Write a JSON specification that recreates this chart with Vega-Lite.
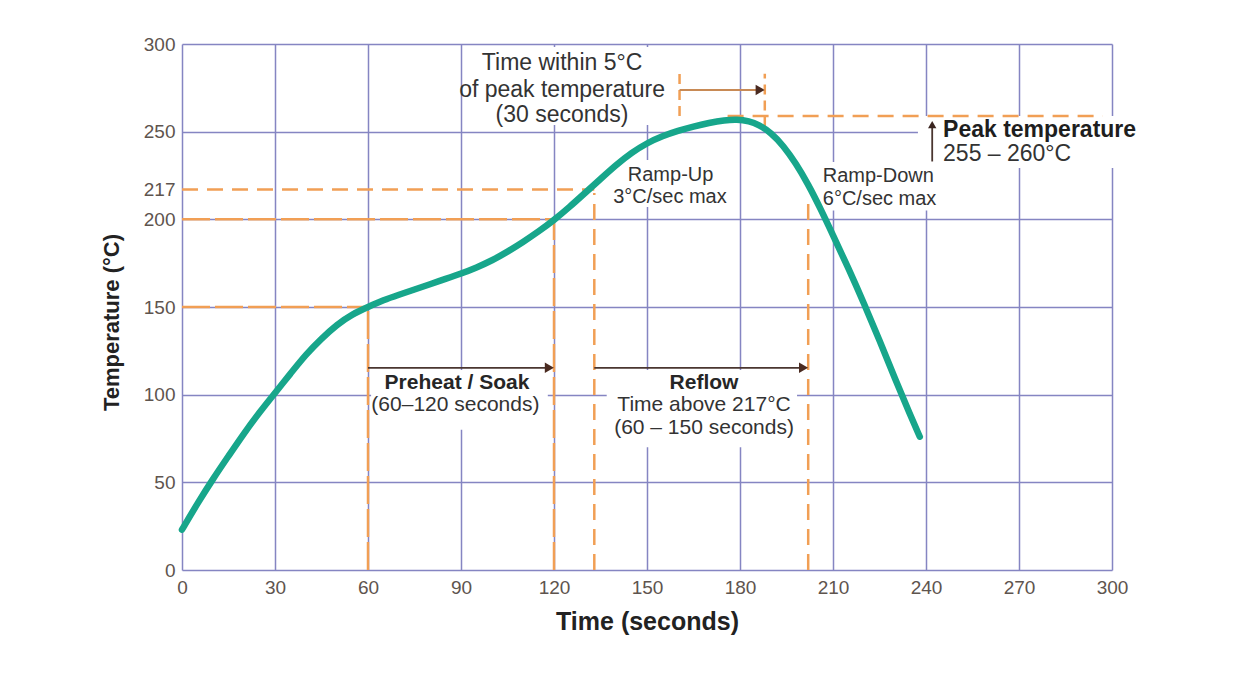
{
  "$schema": "https://vega.github.io/schema/vega-lite/v6.json",
  "width": 930,
  "height": 526,
  "autosize": {"type": "none"},
  "padding": {"left": 182, "top": 44, "right": 134, "bottom": 116},
  "background": "white",
  "config": {"view": {"stroke": null}, "font": "Liberation Sans"},
  "datasets": {
    "curve": [
      {"t": 0, "temp": 23}, {"t": 5, "temp": 38}, {"t": 10, "temp": 52}, {"t": 15, "temp": 65},
      {"t": 20, "temp": 78}, {"t": 25, "temp": 90}, {"t": 30, "temp": 101}, {"t": 35, "temp": 112},
      {"t": 40, "temp": 123}, {"t": 45, "temp": 132}, {"t": 50, "temp": 140}, {"t": 55, "temp": 146},
      {"t": 60, "temp": 150}, {"t": 65, "temp": 154}, {"t": 70, "temp": 157}, {"t": 75, "temp": 160},
      {"t": 80, "temp": 163}, {"t": 85, "temp": 166}, {"t": 90, "temp": 169}, {"t": 95, "temp": 172.5},
      {"t": 100, "temp": 176.5}, {"t": 105, "temp": 181.5}, {"t": 110, "temp": 187}, {"t": 115, "temp": 193},
      {"t": 120, "temp": 199.5}, {"t": 125, "temp": 207}, {"t": 130, "temp": 215}, {"t": 135, "temp": 223},
      {"t": 140, "temp": 231}, {"t": 145, "temp": 238}, {"t": 150, "temp": 243.5}, {"t": 155, "temp": 247.5},
      {"t": 160, "temp": 250.5}, {"t": 165, "temp": 253}, {"t": 170, "temp": 255}, {"t": 175, "temp": 256.5},
      {"t": 179, "temp": 257}, {"t": 183, "temp": 256}, {"t": 186, "temp": 254}, {"t": 190, "temp": 249.5},
      {"t": 194, "temp": 242}, {"t": 198, "temp": 232}, {"t": 202, "temp": 220}, {"t": 206, "temp": 206},
      {"t": 210, "temp": 191}, {"t": 215, "temp": 172}, {"t": 220, "temp": 152}, {"t": 225, "temp": 131},
      {"t": 230, "temp": 109}, {"t": 235, "temp": 88}, {"t": 238, "temp": 76}
    ],
    "boxes": [
      {"t": 91, "t2": 157, "temp": 253.8, "temp2": 298.3},
      {"t": 61, "t2": 118, "temp": 80, "temp2": 114},
      {"t": 137, "t2": 198.4, "temp": 70, "temp2": 114},
      {"t": 137, "t2": 177.7, "temp": 207, "temp2": 233.8},
      {"t": 204, "t2": 249, "temp": 205, "temp2": 232.7},
      {"t": 237.4, "t2": 312, "temp": 229.3, "temp2": 258.9}
    ],
    "dashA": [
      {"t": 0, "t2": 133, "temp": 217, "temp2": 217},
      {"t": 176, "t2": 297, "temp": 259, "temp2": 259},
      {"t": 133, "t2": 133, "temp": 0, "temp2": 215},
      {"t": 202, "t2": 202, "temp": 0, "temp2": 212}
    ],
    "dashB": [
      {"t": 0, "t2": 120, "temp": 200, "temp2": 200},
      {"t": 0, "t2": 60, "temp": 150, "temp2": 150},
      {"t": 120, "t2": 120, "temp": 0, "temp2": 200},
      {"t": 60, "t2": 60, "temp": 0, "temp2": 150}
    ],
    "dashC": [
      {"t": 160.5, "t2": 160.5, "temp": 259, "temp2": 283},
      {"t": 188, "t2": 188, "temp": 253, "temp2": 283}
    ],
    "arrows": [
      {"t": 60, "t2": 118, "temp": 115.3, "temp2": 115.3},
      {"t": 133, "t2": 200, "temp": 115.3, "temp2": 115.3},
      {"t": 242, "t2": 242, "temp": 233, "temp2": 253}
    ],
    "peakArrow": [
      {"t": 160.5, "t2": 186, "temp": 273.8, "temp2": 273.8}
    ],
    "headsRight": [
      {"t": 118.5, "temp": 115.3},
      {"t": 200.5, "temp": 115.3},
      {"t": 186.5, "temp": 273.8}
    ],
    "headsUp": [
      {"t": 242, "temp": 254}
    ],
    "textTime": [
      {"t": 122.6, "temp": 289.2, "label": "Time within 5°C"},
      {"t": 122.6, "temp": 273.8, "label": "of peak temperature"},
      {"t": 122.6, "temp": 259.5, "label": "(30 seconds)"}
    ],
    "textBoldCenter": [
      {"t": 88.7, "temp": 106.8, "label": "Preheat / Soak"},
      {"t": 168.4, "temp": 106.7, "label": "Reflow"}
    ],
    "textCenter": [
      {"t": 88.2, "temp": 94.1, "label": "(60–120 seconds)"},
      {"t": 168.4, "temp": 94.1, "label": "Time above 217°C"},
      {"t": 168.4, "temp": 81, "label": "(60 – 150 seconds)"}
    ],
    "textRamp": [
      {"t": 157.6, "temp": 225.2, "label": "Ramp-Up"},
      {"t": 157.4, "temp": 212.9, "label": "3°C/sec max"}
    ],
    "textLeft": [
      {"t": 206.7, "temp": 224.6, "label": "Ramp-Down"},
      {"t": 206.7, "temp": 211.8, "label": "6°C/sec max"}
    ],
    "textPeak": [
      {"t": 245.5, "temp": 237, "label": "255 – 260°C"}
    ],
    "textPeakBold": [
      {"t": 245.5, "temp": 251.2, "label": "Peak temperature"}
    ]
  },
  "encoding": {
    "x": {
      "field": "t", "type": "quantitative",
      "scale": {"domain": [0, 300], "nice": false, "zero": false},
      "axis": {
        "values": [0, 30, 60, 90, 120, 150, 180, 210, 240, 270, 300],
        "grid": true, "gridColor": "#8585c2", "gridWidth": 1.5, "gridOpacity": 1,
        "domain": false, "ticks": false,
        "labelFontSize": 19, "labelColor": "#5e544e", "labelPadding": 8, "labelFlush": false,
        "title": "Time (seconds)", "titleFontSize": 25, "titleFontWeight": "bold", "titleColor": "#222222", "titlePadding": 12
      }
    },
    "y": {
      "field": "temp", "type": "quantitative",
      "scale": {"domain": [0, 300], "nice": false, "zero": false},
      "axis": {
        "values": [0, 50, 100, 150, 200, 217, 250, 300],
        "grid": true, "gridColor": "#8585c2", "gridWidth": 1.5,
        "gridOpacity": {"condition": {"test": "datum.value === 217", "value": 0}, "value": 1},
        "domain": false, "ticks": false, "labelOverlap": false,
        "labelFontSize": 19, "labelColor": "#5e544e", "labelPadding": 7, "labelFlush": false,
        "title": "Temperature (°C)", "titleFontSize": 22, "titleFontWeight": "bold", "titleColor": "#222222", "titlePadding": 20,
        "titleY": 278
      }
    }
  },
  "layer": [
    {
      "data": {"name": "boxes"},
      "mark": {"type": "rect", "fill": "white", "clip": false},
      "encoding": {"x2": {"field": "t2"}, "y2": {"field": "temp2"}}
    },
    {
      "data": {"name": "dashA"},
      "mark": {"type": "rule", "color": "#f19f55", "strokeWidth": 2.5, "strokeDash": [16, 9]},
      "encoding": {"x2": {"field": "t2"}, "y2": {"field": "temp2"}}
    },
    {
      "data": {"name": "dashB"},
      "mark": {"type": "rule", "color": "#f19f55", "strokeWidth": 2.5, "strokeDash": [28, 5]},
      "encoding": {"x2": {"field": "t2"}, "y2": {"field": "temp2"}}
    },
    {
      "data": {"name": "dashC"},
      "mark": {"type": "rule", "color": "#f19f55", "strokeWidth": 2.5, "strokeDash": [10, 6]},
      "encoding": {"x2": {"field": "t2"}, "y2": {"field": "temp2"}}
    },
    {
      "data": {"name": "curve"},
      "mark": {"type": "line", "color": "#17a68b", "strokeWidth": 6.5, "interpolate": "basis", "strokeCap": "round"}
    },
    {
      "data": {"name": "arrows"},
      "mark": {"type": "rule", "color": "#4a3630", "strokeWidth": 1.8},
      "encoding": {"x2": {"field": "t2"}, "y2": {"field": "temp2"}}
    },
    {
      "data": {"name": "peakArrow"},
      "mark": {"type": "rule", "color": "#c88a55", "strokeWidth": 2},
      "encoding": {"x2": {"field": "t2"}, "y2": {"field": "temp2"}}
    },
    {
      "data": {"name": "headsRight"},
      "mark": {"type": "point", "shape": "triangle-right", "filled": true, "color": "#4a2a20", "size": 110, "opacity": 1}
    },
    {
      "data": {"name": "headsUp"},
      "mark": {"type": "point", "shape": "triangle-up", "filled": true, "color": "#3a2520", "size": 70, "opacity": 1}
    },
    {
      "data": {"name": "textTime"},
      "mark": {"type": "text", "fontSize": 23, "color": "#333333", "align": "center", "baseline": "middle"},
      "encoding": {"text": {"field": "label"}}
    },
    {
      "data": {"name": "textBoldCenter"},
      "mark": {"type": "text", "fontSize": 21, "fontWeight": "bold", "color": "#262626", "align": "center", "baseline": "middle"},
      "encoding": {"text": {"field": "label"}}
    },
    {
      "data": {"name": "textCenter"},
      "mark": {"type": "text", "fontSize": 21, "color": "#333333", "align": "center", "baseline": "middle"},
      "encoding": {"text": {"field": "label"}}
    },
    {
      "data": {"name": "textRamp"},
      "mark": {"type": "text", "fontSize": 20, "color": "#333333", "align": "center", "baseline": "middle"},
      "encoding": {"text": {"field": "label"}}
    },
    {
      "data": {"name": "textLeft"},
      "mark": {"type": "text", "fontSize": 20, "color": "#333333", "align": "left", "baseline": "middle"},
      "encoding": {"text": {"field": "label"}}
    },
    {
      "data": {"name": "textPeak"},
      "mark": {"type": "text", "fontSize": 23, "color": "#333333", "align": "left", "baseline": "middle"},
      "encoding": {"text": {"field": "label"}}
    },
    {
      "data": {"name": "textPeakBold"},
      "mark": {"type": "text", "fontSize": 23, "fontWeight": "bold", "color": "#1e1e1e", "align": "left", "baseline": "middle"},
      "encoding": {"text": {"field": "label"}}
    }
  ]
}
